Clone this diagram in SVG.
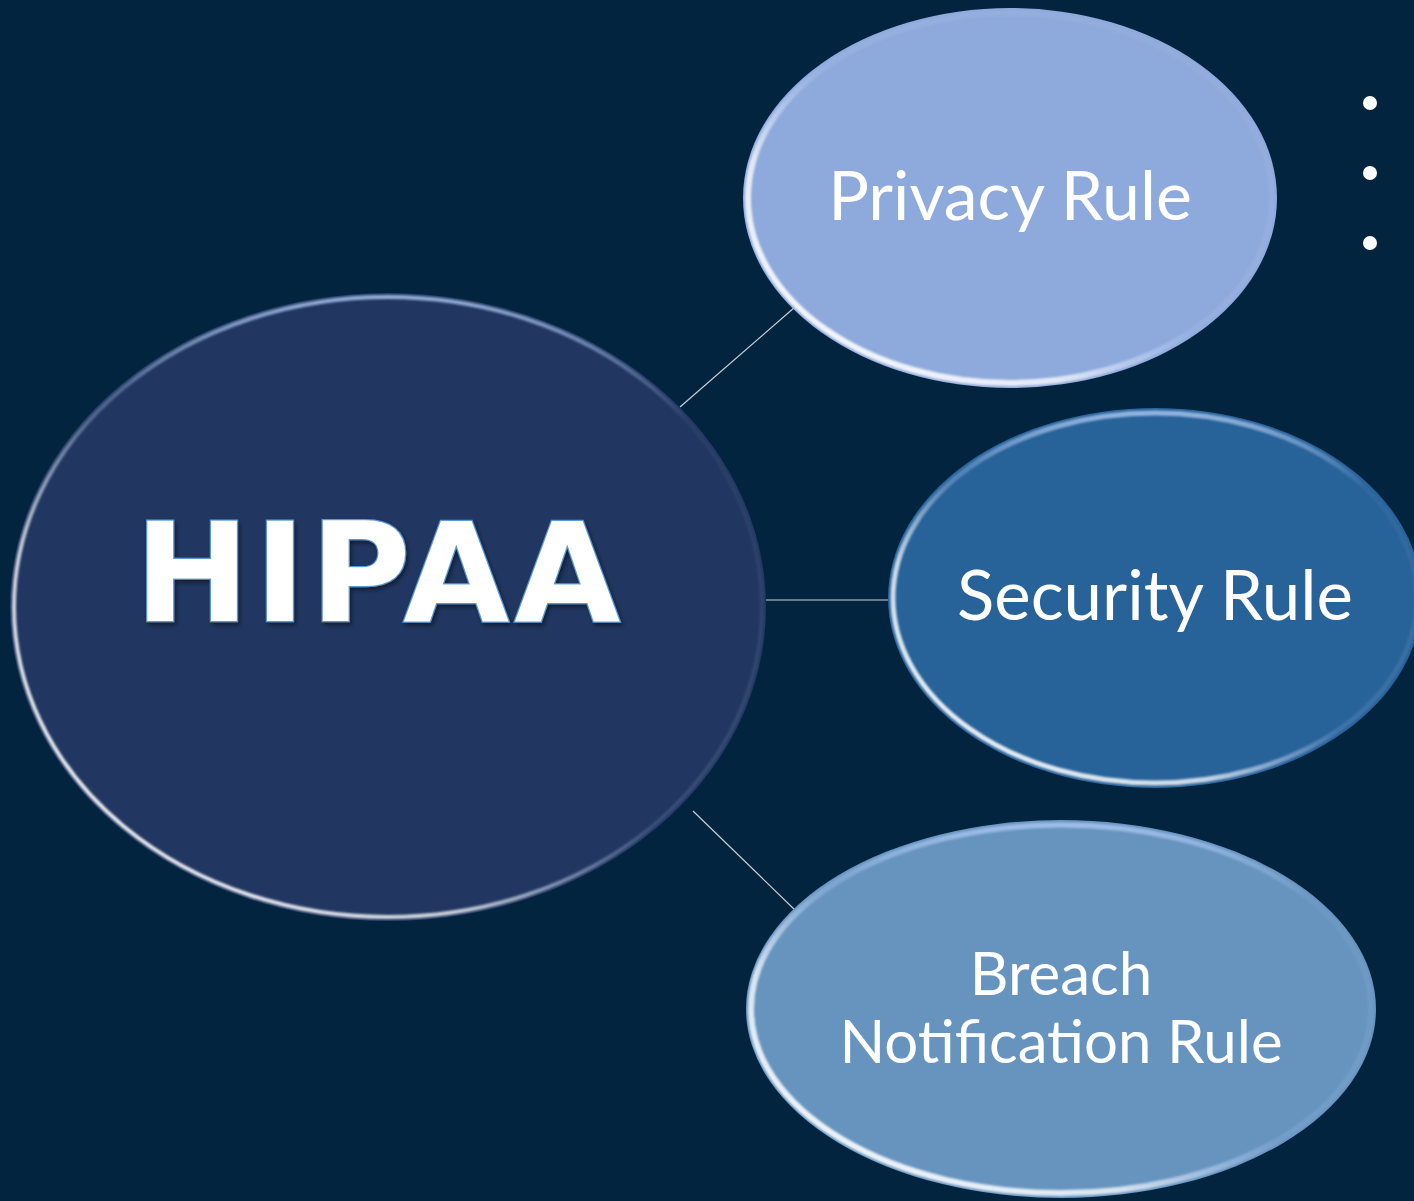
<svg xmlns="http://www.w3.org/2000/svg" width="1414" height="1201" viewBox="0 0 1414 1201">
<style>
.lbl{font-family:"Lato","Liberation Sans",sans-serif;fill:#ffffff;text-anchor:middle}
.conn{stroke:#c9cfd8;stroke-width:1.2;fill:none}
.bul{fill:#ffffff}
</style>
<defs>
<linearGradient id="rim" x1="0" y1="1" x2="1" y2="0">
<stop offset="0" stop-color="#ffffff" stop-opacity="1"/>
<stop offset="0.3" stop-color="#ffffff" stop-opacity="0.75"/>
<stop offset="0.5" stop-color="#bcd4ff" stop-opacity="0.15"/>
<stop offset="1" stop-color="#ffffff" stop-opacity="0"/>
</linearGradient>
<linearGradient id="rimTop" x1="0" y1="0" x2="0" y2="1">
<stop offset="0" stop-color="#a9c6f0" stop-opacity="0.8"/>
<stop offset="0.2" stop-color="#a9c6f0" stop-opacity="0"/>
</linearGradient>
<filter id="soft" x="-5%" y="-5%" width="110%" height="110%">
<feGaussianBlur stdDeviation="1.3"/>
</filter>
<filter id="tshadow" x="-10%" y="-10%" width="120%" height="130%">
<feDropShadow dx="2" dy="3" stdDeviation="2" flood-color="#000" flood-opacity="0.45"/>
</filter>
</defs>
<rect width="1414" height="1201" fill="#03243f"/>
<g id="connectors">
<line class="conn" x1="680" y1="407" x2="795" y2="307"/>
<line class="conn" x1="766" y1="600" x2="888" y2="600"/>
<line class="conn" x1="693" y1="811" x2="797" y2="912"/>
</g>
<g id="hipaa">
<ellipse cx="388" cy="607" rx="378" ry="314" fill="#213761"/>
<ellipse cx="388" cy="607" rx="374" ry="310" fill="none" stroke="url(#rim)" stroke-width="4" filter="url(#soft)"/>
<ellipse cx="388" cy="607" rx="374" ry="310" fill="none" stroke="url(#rimTop)" stroke-width="4" filter="url(#soft)"/>
<text x="380" y="621" font-family="DejaVu Sans, sans-serif" font-weight="bold" font-size="137" letter-spacing="5" fill="#ffffff" stroke="#5b9bd5" stroke-width="2.5" paint-order="stroke" text-anchor="middle" filter="url(#tshadow)">HIPAA</text>
</g>
<g id="privacy">
<ellipse cx="1010" cy="198" rx="267" ry="190" fill="#8ea9db"/>
<ellipse cx="1010" cy="198" rx="262" ry="185" fill="none" stroke="url(#rim)" stroke-width="6" filter="url(#soft)"/>
<text class="lbl" x="1010" y="220" font-size="68">Privacy Rule</text>
</g>
<g id="security">
<ellipse cx="1155" cy="598" rx="267" ry="190" fill="#276299"/>
<ellipse cx="1155" cy="598" rx="262" ry="185" fill="none" stroke="url(#rim)" stroke-width="5" filter="url(#soft)"/>
<ellipse cx="1155" cy="598" rx="262" ry="185" fill="none" stroke="url(#rimTop)" stroke-width="5" filter="url(#soft)"/>
<text class="lbl" x="1155" y="620" font-size="69">Security Rule</text>
</g>
<g id="breach">
<ellipse cx="1061" cy="1009" rx="315" ry="189" fill="#6694bf"/>
<ellipse cx="1061" cy="1009" rx="310" ry="184" fill="none" stroke="url(#rim)" stroke-width="6" filter="url(#soft)"/>
<ellipse cx="1061" cy="1009" rx="310" ry="184" fill="none" stroke="url(#rimTop)" stroke-width="5" filter="url(#soft)"/>
<text class="lbl" x="1061" y="995" font-size="60">Breach</text>
<text class="lbl" x="1061" y="1063" font-size="60">Notification Rule</text>
</g>
<g id="bullets">
<circle class="bul" cx="1370" cy="103" r="7"/>
<circle class="bul" cx="1370" cy="173" r="7"/>
<circle class="bul" cx="1370" cy="243" r="7"/>
</g>
</svg>
